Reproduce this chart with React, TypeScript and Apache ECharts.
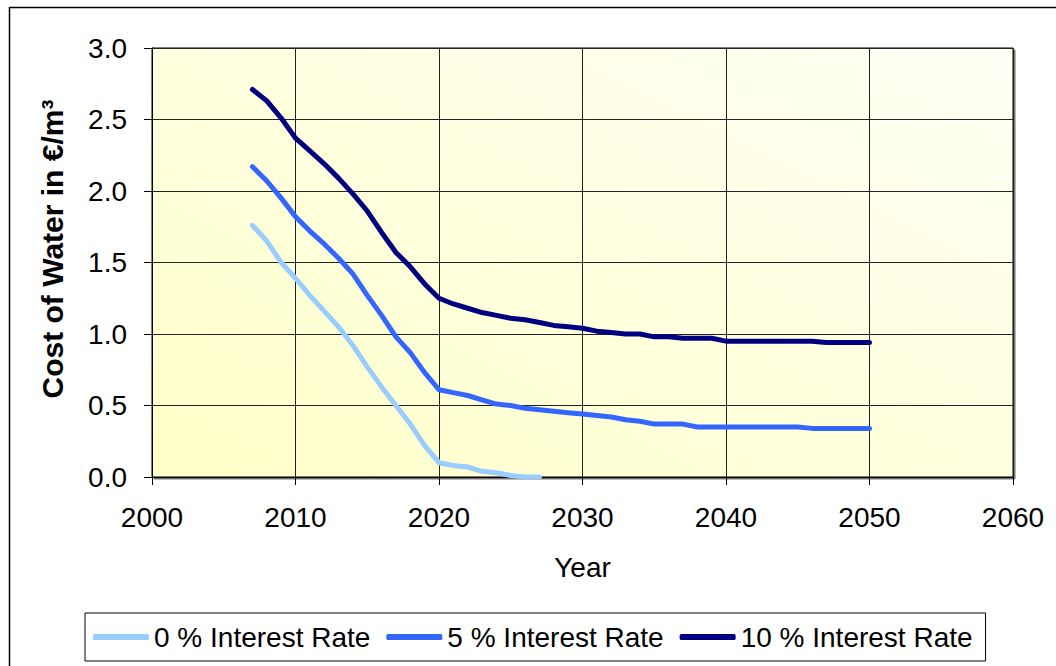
import React, { useEffect, useRef } from "react";
import * as echarts from "echarts";

const years = [
  2007, 2008, 2009, 2010, 2011, 2012, 2013, 2014, 2015, 2016, 2017,
  2018, 2019, 2020, 2021, 2022, 2023, 2024, 2025, 2026, 2027, 2028,
  2029, 2030, 2031, 2032, 2033, 2034, 2035, 2036, 2037, 2038, 2039,
  2040, 2041, 2042, 2043, 2044, 2045, 2046, 2047, 2048, 2049, 2050,
];

const rate0 = [
  1.76, 1.65, 1.5, 1.39, 1.27, 1.16, 1.05, 0.92, 0.77, 0.63, 0.5,
  0.37, 0.22, 0.1, 0.08, 0.07, 0.04, 0.03, 0.01, 0.0, 0.0,
];

const rate5 = [
  2.17, 2.07, 1.95, 1.82, 1.72, 1.63, 1.53, 1.42, 1.27, 1.13, 0.98,
  0.87, 0.73, 0.61, 0.59, 0.57, 0.54, 0.51, 0.5, 0.48, 0.47, 0.46,
  0.45, 0.44, 0.43, 0.42, 0.4, 0.39, 0.37, 0.37, 0.37, 0.35, 0.35,
  0.35, 0.35, 0.35, 0.35, 0.35, 0.35, 0.34, 0.34, 0.34, 0.34, 0.34,
];

const rate10 = [
  2.71, 2.63, 2.51, 2.37, 2.28, 2.19, 2.09, 1.98, 1.86, 1.71, 1.57,
  1.47, 1.35, 1.25, 1.21, 1.18, 1.15, 1.13, 1.11, 1.1, 1.08, 1.06,
  1.05, 1.04, 1.02, 1.01, 1.0, 1.0, 0.98, 0.98, 0.97, 0.97, 0.97,
  0.95, 0.95, 0.95, 0.95, 0.95, 0.95, 0.95, 0.94, 0.94, 0.94, 0.94,
];

const seriesNames = ["0 % Interest Rate", "5 % Interest Rate", "10 % Interest Rate"];
const seriesColors = ["#99CCFF", "#3366FF", "#000080"];
const seriesValues = [rate0, rate5, rate10];

const xTitle = "Year";
const yTitle = "Cost of Water in €/m³";

const FONT = "'Liberation Sans', Arial, sans-serif";

export default function App() {
  const ref = useRef<HTMLDivElement>(null);

  useEffect(() => {
    if (!ref.current) return;
    const chart = echarts.init(ref.current, null, { renderer: "svg" });
    const option = {
      animation: false,
      backgroundColor: "#ffffff",
      textStyle: { fontFamily: FONT },
      grid: {
        left: 152,
        top: 48,
        right: 43,
        bottom: 189,
        show: true,
        borderColor: "#000",
        borderWidth: 1,
        backgroundColor: new echarts.graphic.LinearGradient(0, 1, 1, 0, [
          { offset: 0, color: "#FFFFC8" },
          { offset: 1, color: "#FFFFF6" },
        ]),
        shadowColor: "rgba(0,0,0,0.55)",
        shadowOffsetX: 2,
        shadowOffsetY: 2,
        shadowBlur: 1,
      },
      xAxis: {
        type: "value",
        min: 2000,
        max: 2060,
        interval: 10,
        name: xTitle,
        nameLocation: "middle",
        nameGap: 76,
        nameTextStyle: { fontSize: 28, color: "#000", fontFamily: FONT },
        axisLine: { show: true, onZero: false, lineStyle: { color: "#000", width: 1 } },
        axisTick: { show: true, length: 8, inside: false, lineStyle: { color: "#000" } },
        axisLabel: {
          fontSize: 28,
          color: "#000",
          margin: 26,
          fontFamily: FONT,
          formatter: (v: number) => String(v),
        },
        splitLine: { show: true, lineStyle: { color: "#222", width: 1 } },
      },
      yAxis: {
        type: "value",
        min: 0,
        max: 3,
        interval: 0.5,
        axisLine: { show: true, onZero: false, lineStyle: { color: "#000", width: 1 } },
        axisTick: { show: true, length: 8, inside: false, lineStyle: { color: "#000" } },
        axisLabel: {
          fontSize: 28,
          color: "#000",
          margin: 25,
          fontFamily: FONT,
          formatter: (v: number) => v.toFixed(1),
        },
        splitLine: { show: true, lineStyle: { color: "#222", width: 1 } },
      },
      legend: {
        left: 85,
        top: 613,
        orient: "horizontal",
        padding: [10, 13, 10, 8],
        itemGap: 16,
        itemWidth: 56,
        itemHeight: 6,
        icon: "roundRect",
        borderColor: "#000",
        borderWidth: 1,
        textStyle: { fontSize: 28, color: "#000", fontFamily: FONT },
        data: seriesNames.map((n, i) => ({
          name: n,
          itemStyle: { color: seriesColors[i] },
        })),
      },
      graphic: [
        {
          type: "rect",
          left: 7,
          top: 5,
          shape: { width: 1100, height: 700 },
          style: { fill: "none", stroke: "#000", lineWidth: 1.5 },
          silent: true,
          z: 0,
        },
        {
          type: "text",
          x: 52,
          y: 249,
          rotation: Math.PI / 2,
          style: {
            text: yTitle,
            fontSize: 30,
            fontWeight: "bold",
            fontFamily: FONT,
            fill: "#000",
            textAlign: "center",
            textVerticalAlign: "middle",
          },
          z: 10,
        },
      ],
      series: seriesNames.map((n, i) => ({
        name: n,
        type: "line",
        data: seriesValues[i].map((v, k) => [years[k], v]),
        showSymbol: false,
        symbol: "none",
        clip: true,
        lineStyle: { color: seriesColors[i], width: 5, cap: "round", join: "round" },
        itemStyle: { color: seriesColors[i] },
        z: 3 + i,
      })),
    };
    chart.setOption(option as any);
    return () => chart.dispose();
  }, []);

  return <div ref={ref} style={{ width: 1056, height: 666, position: "absolute", left: 0, top: 0 }} />;
}
